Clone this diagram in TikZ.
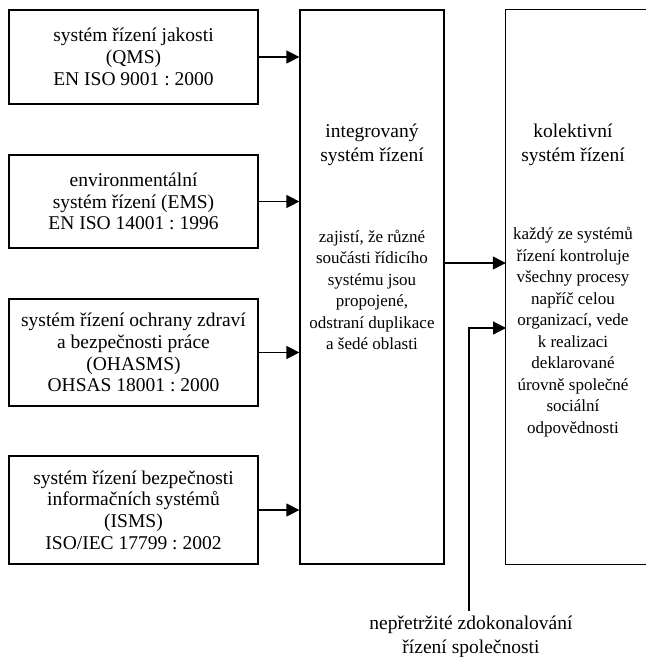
\documentclass[tikz,border=0pt]{standalone}
\usepackage{fontspec}
\setmainfont{Liberation Serif}
\usetikzlibrary{arrows.meta,calc}
\frenchspacing
\tikzset{
  x=1pt, y=-1pt,
  box/.style={draw, line width=1.2pt, rectangle, minimum width=249pt, align=center, inner sep=0pt,
    font=\fontsize{19.5}{21.7}\selectfont},
  bigbox/.style={rectangle, minimum width=144pt, minimum height=554pt, inner sep=0pt},
  head/.style={align=center, inner sep=0pt, font=\fontsize{19.5}{24}\selectfont},
  body/.style={align=center, inner sep=0pt, font=\fontsize{17}{21.5}\selectfont},
  arr/.style={line width=1.2pt, -{Triangle[length=13pt,width=13pt]}},
  ln/.style={line width=1.2pt}
}
\begin{document}
\begin{tikzpicture}
\useasboundingbox (0,0) rectangle (646,657);
% left boxes
\node[box, minimum height=94pt] (b1) at (133.5,57) {systém řízení jakosti\\(QMS)\\EN ISO 9001 : 2000};
\node[box, minimum height=93pt] (b2) at (133.5,201.5) {environmentální\\systém řízení (EMS)\\EN ISO 14001 : 1996};
\node[box, minimum height=107pt] (b3) at (133.5,352.5) {systém řízení ochrany zdraví\\a bezpečnosti práce\\(OHASMS)\\OHSAS 18001 : 2000};
\node[box, minimum height=108pt] (b4) at (133.5,510) {systém řízení bezpečnosti\\informačních systémů\\(ISMS)\\ISO/IEC 17799 : 2002};
% middle box
\node[bigbox, draw, line width=1.2pt] (mid) at (372,287) {};
\node[head] (midh) at (372,145) {integrovaný\\systém řízení};
\node[body] (midb) at (372,290) {zajistí, že různé\\součásti řídicího\\systému jsou\\propojené,\\odstraní duplikace\\a šedé oblasti};
% right box (cut at the right edge)
\node[bigbox, minimum width=134pt] (kol) at (573,287) {};
\draw[ln] ([xshift=6pt]kol.north east) -- (kol.north west) -- (kol.south west) -- ([xshift=6pt]kol.south east);
\node[head] (kolh) at (573,145) {kolektivní\\systém řízení};
\node[body] (kolb) at (573,332) {každý ze systémů\\řízení kontroluje\\všechny procesy\\napříč celou\\organizací, vede\\k realizaci\\deklarované\\úrovně společné\\sociální\\odpovědnosti};
% arrows into middle box
\foreach \b in {b1,b2,b3,b4} \draw[arr] (\b.east) -- (\b.east -| mid.west);
% middle -> right
\draw[arr] ([yshift=24pt]mid.east) -- ([yshift=24pt]mid.east -| kol.west);
% continuous improvement
\coordinate (cfoot) at (469,611);
\coordinate (cin) at (506,328);
\draw[arr] (cfoot) |- (cin);
\node[head] (lbl) at (471,637) {nepřetržité zdokonalování\\řízení společnosti};
\end{tikzpicture}
\end{document}
